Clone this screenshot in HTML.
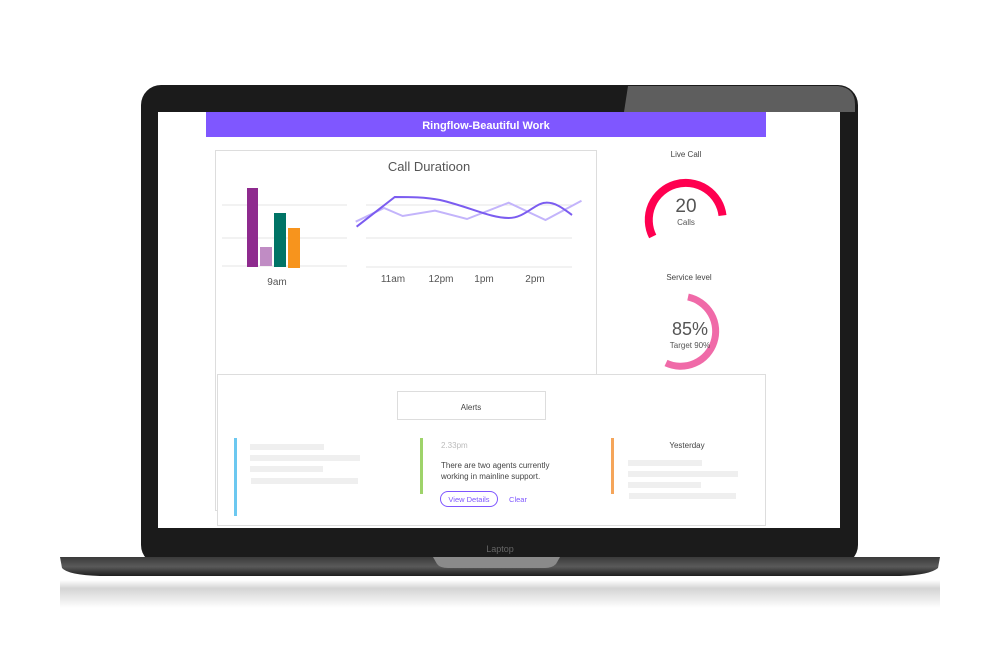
<!DOCTYPE html>
<html><head><meta charset="utf-8"><style>
html,body{margin:0;padding:0;background:#fff;width:1000px;height:667px;overflow:hidden}
svg{display:block}
text{font-family:"Liberation Sans",sans-serif}
</style></head><body>
<svg width="1000" height="667" viewBox="0 0 1000 667">
<defs>
<linearGradient id="base" x1="0" y1="0" x2="0" y2="1">
<stop offset="0" stop-color="#3a3a3a"/><stop offset="0.5" stop-color="#5a5a5a"/><stop offset="1" stop-color="#1e1e1e"/></linearGradient>
<linearGradient id="refl" x1="0" y1="0" x2="0" y2="1">
<stop offset="0" stop-color="#fff"/><stop offset="0.3" stop-color="#d4d4d4"/><stop offset="1" stop-color="#fff"/></linearGradient>
</defs>
<!-- lid -->
<rect x="141" y="85" width="717" height="480" rx="20" fill="#1b1b1b"/>
<path d="M628 86 L838 86 Q855 88 855 104 L855 112 L624 112 Z" fill="#5e5e5e"/>
<rect x="158" y="112" width="682" height="416" fill="#fff"/>
<text x="500" y="552" font-size="9" fill="#666" text-anchor="middle">Laptop</text>
<!-- base -->
<path d="M60 557 L940 557 L938 568 Q930 575 900 576 L100 576 Q68 575 62 568 Z" fill="url(#base)"/>
<path d="M433 557 L560 557 L556 564 Q552 568 545 568 L448 568 Q440 568 437 564 Z" fill="#8a8a8a"/>
<rect x="60" y="580" width="880" height="28" fill="url(#refl)"/>
<!-- header -->
<rect x="206" y="112" width="560" height="25" fill="#7f57ff"/>
<text x="486" y="129" font-size="11" font-weight="bold" fill="#fff" text-anchor="middle">Ringflow-Beautiful Work</text>
<!-- chart card -->
<rect x="215.5" y="150.5" width="381" height="360" fill="none" stroke="#ddd"/>
<text x="429" y="171" font-size="13" fill="#555" text-anchor="middle">Call Duratioon</text>
<g stroke="#e6e6e6" stroke-width="1">
<line x1="222" y1="205" x2="347" y2="205"/><line x1="222" y1="238" x2="347" y2="238"/><line x1="222" y1="266" x2="347" y2="266"/>
<line x1="366" y1="205" x2="572" y2="205"/><line x1="366" y1="238" x2="572" y2="238"/><line x1="366" y1="267" x2="572" y2="267"/>
</g>
<rect x="247" y="188" width="11" height="79" fill="#8e2a8e"/>
<rect x="260" y="247" width="12" height="19" fill="#c08cc4"/>
<rect x="274" y="213" width="12" height="54" fill="#007466"/>
<rect x="288" y="228" width="12" height="40" fill="#f7941d"/>
<text x="277" y="285" font-size="10" fill="#555" text-anchor="middle">9am</text>
<g font-size="10" fill="#555" text-anchor="middle">
<text x="393" y="282">11am</text><text x="441" y="282">12pm</text><text x="484" y="282">1pm</text><text x="535" y="282">2pm</text></g>
<polyline points="355.7,221.7 384,208 402.7,216 435,210.7 467,219 508.7,202.7 545.5,220 581.5,200.7" fill="none" stroke="#c3b4fb" stroke-width="2"/>
<path d="M356.6 226.7 L394.8 197 C410 197 425 197 440 200 C470 207 490 218 508.7 218 C525 218 535 203 545.5 202.7 C556 202 565 210 572 215" fill="none" stroke="#7b5cf0" stroke-width="2"/>
<!-- right gauges -->
<text x="686" y="157" font-size="8" fill="#444" text-anchor="middle">Live Call</text>
<path d="M652.7 236.5 A37 37 0 1 1 722.5 215.5" fill="none" stroke="#ff0050" stroke-width="8"/>
<text x="686" y="212" font-size="19" fill="#555" text-anchor="middle">20</text>
<text x="686" y="225" font-size="8" fill="#555" text-anchor="middle">Calls</text>
<text x="689" y="280" font-size="8" fill="#444" text-anchor="middle">Service level</text>
<path d="M688 297 A35 35 0 1 1 666 363" fill="none" stroke="#f06aa8" stroke-width="7"/>
<text x="690" y="335" font-size="18" fill="#555" text-anchor="middle">85%</text>
<text x="690" y="348" font-size="8" fill="#555" text-anchor="middle">Target 90%</text>
<!-- alerts -->
<rect x="217.5" y="374.5" width="548" height="151" fill="#fff" stroke="#ddd"/>
<rect x="397.5" y="391.5" width="148" height="28" fill="#fff" stroke="#ddd"/>
<text x="471" y="410" font-size="8" fill="#444" text-anchor="middle">Alerts</text>
<rect x="234" y="438" width="3" height="78" fill="#6cc8f0"/>
<g fill="#efefef">
<rect x="250" y="444" width="74" height="6"/><rect x="250" y="455" width="110" height="6"/><rect x="250" y="466" width="73" height="6"/><rect x="251" y="478" width="107" height="6"/>
<rect x="628" y="460" width="74" height="6"/><rect x="628" y="471" width="110" height="6"/><rect x="628" y="482" width="73" height="6"/><rect x="629" y="493" width="107" height="6"/>
</g>
<rect x="420" y="438" width="3" height="56" fill="#9ed36a"/>
<text x="441" y="448" font-size="8" fill="#bbb">2.33pm</text>
<text x="441" y="468" font-size="8" fill="#444">There are two agents currently</text>
<text x="441" y="479" font-size="8" fill="#444">working in mainline support.</text>
<rect x="440.5" y="491.5" width="57" height="15" rx="7.5" fill="none" stroke="#7f57ff"/>
<text x="469" y="502" font-size="7.5" fill="#7f57ff" text-anchor="middle">View Details</text>
<text x="518" y="502" font-size="7.5" fill="#7f57ff" text-anchor="middle">Clear</text>
<rect x="611" y="438" width="3" height="56" fill="#f5a55a"/>
<text x="687" y="448" font-size="8" fill="#444" text-anchor="middle">Yesterday</text>
</svg>
</body></html>
